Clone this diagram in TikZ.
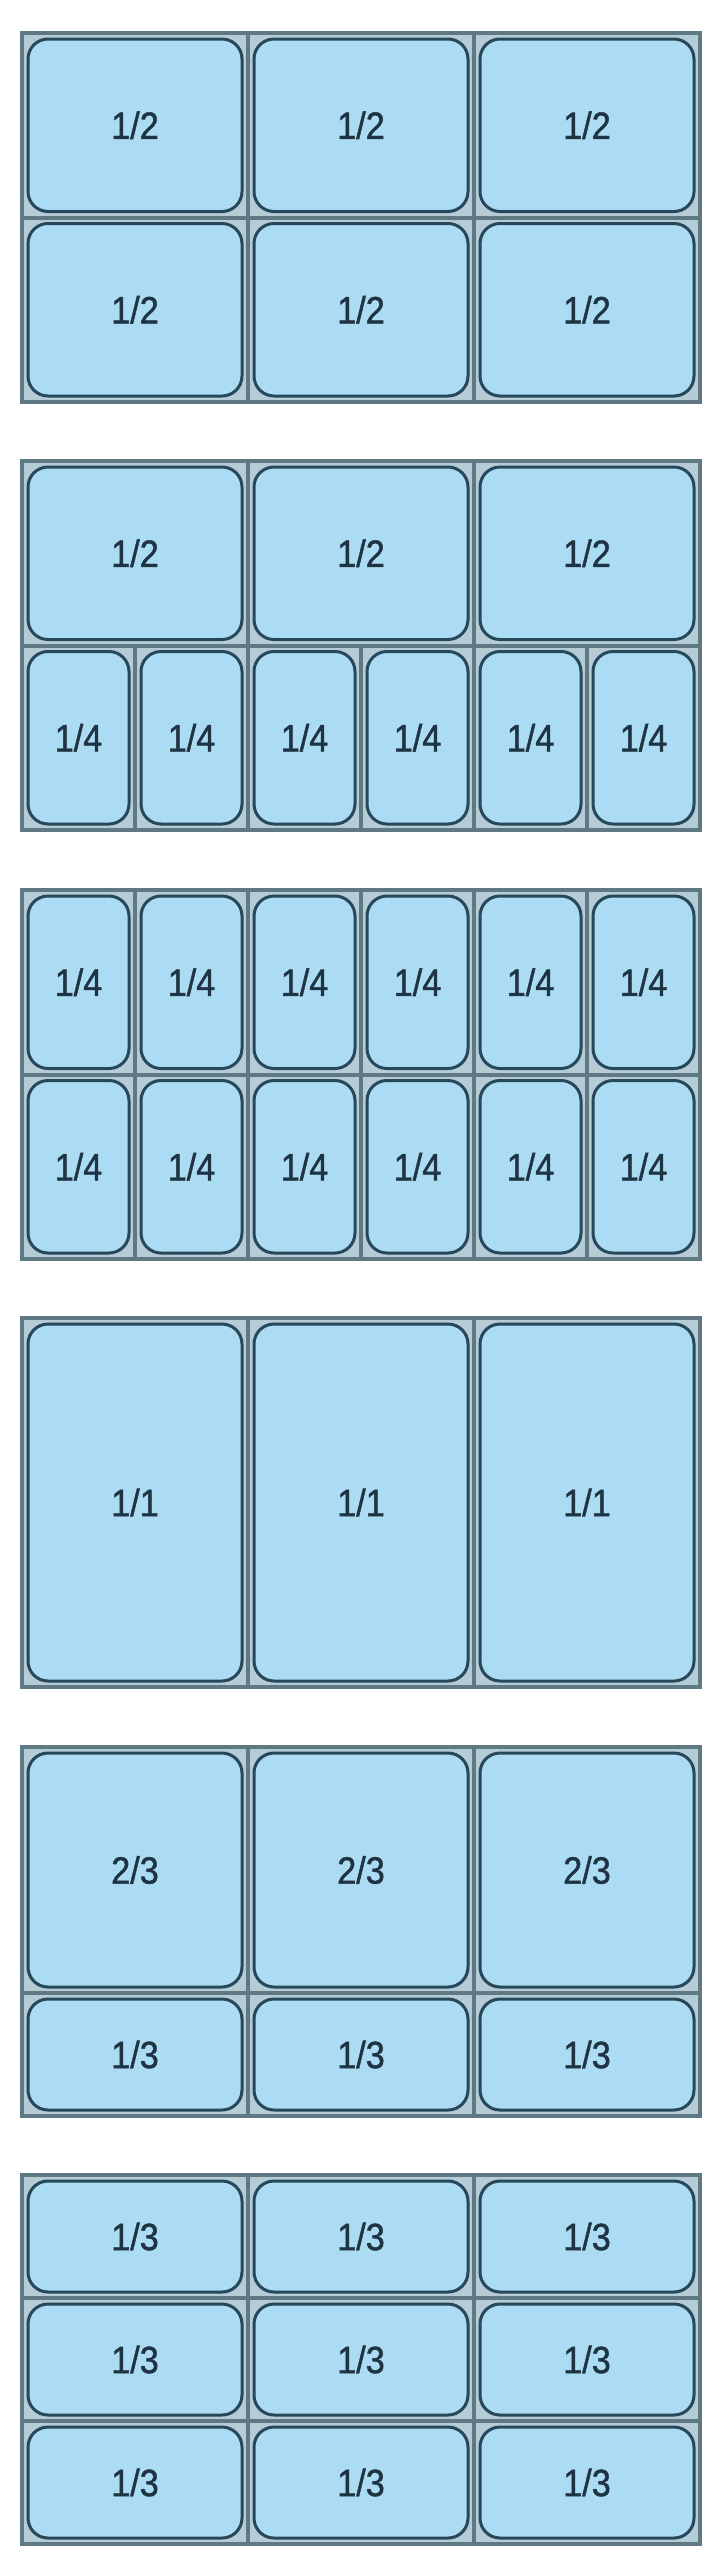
\documentclass[tikz,border=0pt]{standalone}
\usepackage{fontspec}
\setmainfont{Liberation Sans}[FakeStretch=0.9,FakeBold=1.2]
\definecolor{panblue}{HTML}{ACDCF4}
\definecolor{panline}{HTML}{27475A}
\definecolor{traybg}{HTML}{B5CCD7}
\definecolor{trayline}{HTML}{5E7884}
\definecolor{labeltext}{HTML}{1F3442}
\begin{document}
\begin{tikzpicture}[x=1pt,y=-1pt,
    tray/.style={draw=trayline, line width=4pt, fill=traybg, inner sep=0pt,
      minimum width=678pt, minimum height=369pt},
    divider/.style={draw=trayline, line width=4pt},
    pan/.style={draw=panline, line width=3pt, fill=panblue, rounded corners=20pt,
      inner sep=0pt, text=labeltext, font=\fontsize{38}{40}\selectfont},
    half/.style={pan, minimum width=214pt, minimum height=172.5pt},
    quarter/.style={pan, minimum width=101pt, minimum height=172.5pt},
    full/.style={pan, minimum width=214pt, minimum height=357pt},
    twothird/.style={pan, minimum width=214pt, minimum height=234pt},
    third/.style={pan, minimum width=214pt, minimum height=111pt}]
  \useasboundingbox (0,0) rectangle (708,2560);

  % Bandejas
  \node[tray] (t1) at (361,217.5) {};
  \node[tray] (t2) at (361,645.5) {};
  \node[tray] (t3) at (361,1074.5) {};
  \node[tray] (t4) at (361,1502.5) {};
  \node[tray] (t5) at (361,1931.5) {};
  \node[tray] (t6) at (361,2359.5) {};

  % Divisorias
  \draw[divider] (248,33) -- (248,402) (474,33) -- (474,402) (22,217.5) -- (700,217.5);
  \draw[divider] (248,461) -- (248,830) (474,461) -- (474,830) (22,645.5) -- (700,645.5);
  \draw[divider] (135,645.5) -- (135,830) (361,645.5) -- (361,830) (587,645.5) -- (587,830);
  \draw[divider] (248,890) -- (248,1259) (474,890) -- (474,1259) (22,1074.5) -- (700,1074.5);
  \draw[divider] (135,890) -- (135,1259) (361,890) -- (361,1259) (587,890) -- (587,1259);
  \draw[divider] (248,1318) -- (248,1687) (474,1318) -- (474,1687);
  \draw[divider] (248,1747) -- (248,2116) (474,1747) -- (474,2116) (22,1993) -- (700,1993);
  \draw[divider] (248,2175) -- (248,2544) (474,2175) -- (474,2544);
  \draw[divider] (22,2298) -- (700,2298) (22,2421) -- (700,2421);

  % Bandeja 1: seis cubas 1/2
  \node[half] (p1a1) at (135,125.25) {1/2};
  \node[half] (p1a2) at (361,125.25) {1/2};
  \node[half] (p1a3) at (587,125.25) {1/2};
  \node[half] (p1b1) at (135,309.75) {1/2};
  \node[half] (p1b2) at (361,309.75) {1/2};
  \node[half] (p1b3) at (587,309.75) {1/2};

  % Bandeja 2: cubas 1/2 e 1/4
  \node[half] (p2a1) at (135,553.25) {1/2};
  \node[half] (p2a2) at (361,553.25) {1/2};
  \node[half] (p2a3) at (587,553.25) {1/2};
  \node[quarter] (p2b1) at (78.5,737.75) {1/4};
  \node[quarter] (p2b2) at (191.5,737.75) {1/4};
  \node[quarter] (p2b3) at (304.5,737.75) {1/4};
  \node[quarter] (p2b4) at (417.5,737.75) {1/4};
  \node[quarter] (p2b5) at (530.5,737.75) {1/4};
  \node[quarter] (p2b6) at (643.5,737.75) {1/4};

  % Bandeja 3: doze cubas 1/4
  \node[quarter] (p3a1) at (78.5,982.25) {1/4};
  \node[quarter] (p3a2) at (191.5,982.25) {1/4};
  \node[quarter] (p3a3) at (304.5,982.25) {1/4};
  \node[quarter] (p3a4) at (417.5,982.25) {1/4};
  \node[quarter] (p3a5) at (530.5,982.25) {1/4};
  \node[quarter] (p3a6) at (643.5,982.25) {1/4};
  \node[quarter] (p3b1) at (78.5,1166.75) {1/4};
  \node[quarter] (p3b2) at (191.5,1166.75) {1/4};
  \node[quarter] (p3b3) at (304.5,1166.75) {1/4};
  \node[quarter] (p3b4) at (417.5,1166.75) {1/4};
  \node[quarter] (p3b5) at (530.5,1166.75) {1/4};
  \node[quarter] (p3b6) at (643.5,1166.75) {1/4};

  % Bandeja 4: tres cubas 1/1
  \node[full] (p4a1) at (135,1502.5) {1/1};
  \node[full] (p4a2) at (361,1502.5) {1/1};
  \node[full] (p4a3) at (587,1502.5) {1/1};

  % Bandeja 5: cubas 2/3 e 1/3
  \node[twothird] (p5a1) at (135,1870) {2/3};
  \node[twothird] (p5a2) at (361,1870) {2/3};
  \node[twothird] (p5a3) at (587,1870) {2/3};
  \node[third] (p5b1) at (135,2054.5) {1/3};
  \node[third] (p5b2) at (361,2054.5) {1/3};
  \node[third] (p5b3) at (587,2054.5) {1/3};

  % Bandeja 6: nove cubas 1/3
  \node[third] (p6a1) at (135,2236.5) {1/3};
  \node[third] (p6a2) at (361,2236.5) {1/3};
  \node[third] (p6a3) at (587,2236.5) {1/3};
  \node[third] (p6b1) at (135,2359.5) {1/3};
  \node[third] (p6b2) at (361,2359.5) {1/3};
  \node[third] (p6b3) at (587,2359.5) {1/3};
  \node[third] (p6c1) at (135,2482.5) {1/3};
  \node[third] (p6c2) at (361,2482.5) {1/3};
  \node[third] (p6c3) at (587,2482.5) {1/3};
\end{tikzpicture}
\end{document}
